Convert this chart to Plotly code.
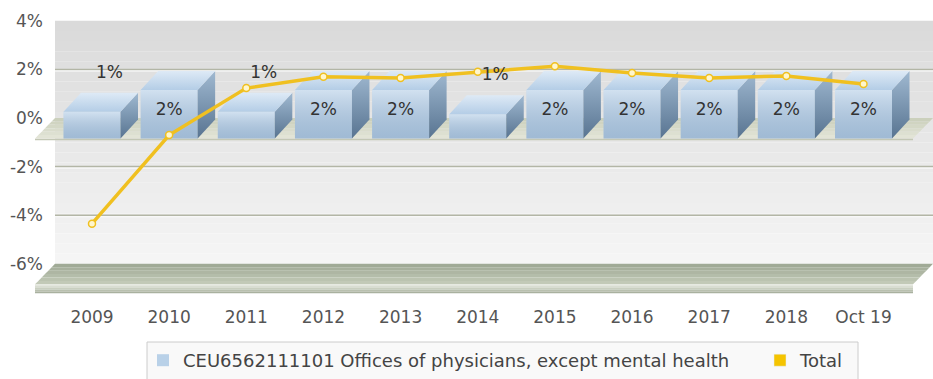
import plotly.graph_objects as go

# ---- data -------------------------------------------------------------
categories = ["2009", "2010", "2011", "2012", "2013", "2014",
              "2015", "2016", "2017", "2018", "Oct 19"]
physicians_pct = [1.1, 2.0, 1.1, 2.0, 2.0, 1.0, 2.0, 2.0, 2.0, 2.0, 2.0]
total_pct = [-4.35, -0.7, 1.23, 1.7, 1.65, 1.9, 2.13, 1.85, 1.65, 1.73, 1.4]
y_tick_values = [4, 2, 0, -2, -4, -6]
physicians_name = "CEU6562111101 Offices of physicians, except mental health"
total_name = "Total"

# ---- geometry of the pseudo-3D canvas ---------------------------------
W, H = 933, 379
CAT_PX = 77.15        # pixels per category step
PCT_PX = 24.3         # pixels per percentage point
ZERO_PX = 118         # pixel row of 0% on the back wall
FIRST_PX = 92         # pixel column of the first category (front plane)
PLOT_TOP, PLOT_BOTTOM = 8, 298
WALL_LEFT_PX = 55

x_lo = -FIRST_PX / CAT_PX
x_hi = x_lo + W / CAT_PX
y_hi = (ZERO_PX - PLOT_TOP) / PCT_PX
y_lo = (ZERO_PX - PLOT_BOTTOM) / PCT_PX


def dx(px):
    return px / CAT_PX


def dy(px):
    return px / PCT_PX


FLOOR_DX, FLOOR_DY = dx(20), dy(20.5)   # depth of floor and base slab
BAR_DX, BAR_DY = dx(17.5), dy(19)       # depth of the bar prisms
BAR_HALF = dx(28.5)
wall_left, wall_right = x_lo + dx(WALL_LEFT_PX), x_hi
y_top, y_bottom = max(y_tick_values), min(y_tick_values)
front0 = -FLOOR_DY                      # 0% on the front plane


def mix(c1, c2, t):
    a = [int(c1[i:i + 2], 16) for i in (1, 3, 5)]
    b = [int(c2[i:i + 2], 16) for i in (1, 3, 5)]
    return "#%02x%02x%02x" % tuple(round(a[k] + (b[k] - a[k]) * t) for k in range(3))


def poly_path(pts):
    return "M " + " L ".join(f"{x},{y}" for x, y in pts) + " Z"


shapes = []

# back wall with a soft vertical gradient
n_bands = 24
for k in range(n_bands):
    ya = y_top - (y_top - y_bottom) * k / n_bands
    yb = y_top - (y_top - y_bottom) * (k + 1) / n_bands
    c = mix("#dadada", "#f5f5f5", k / (n_bands - 1))
    shapes.append(dict(type="rect", xref="x", yref="y", layer="below",
                       x0=wall_left, x1=wall_right, y0=yb, y1=ya,
                       fillcolor=c, line_width=0))

# grid lines on the wall
for t in y_tick_values:
    if t in (0, y_top, y_bottom):
        continue
    shapes.append(dict(type="line", xref="x", yref="y", layer="below",
                       x0=wall_left, x1=wall_right, y0=t, y1=t,
                       line=dict(color="#b3b6a6", width=1.5)))
    shapes.append(dict(type="line", xref="x", yref="y", layer="below",
                       x0=wall_left, x1=wall_right, y0=t - dy(1.5), y1=t - dy(1.5),
                       line=dict(color="#fbfbfb", width=1)))


def plane_bands(level, c_back, c_front, n=6):
    for k in range(n):
        f0, f1 = k / n, (k + 1) / n
        pts = [(wall_left - f0 * FLOOR_DX, level - f0 * FLOOR_DY),
               (wall_right - f0 * FLOOR_DX, level - f0 * FLOOR_DY),
               (wall_right - f1 * FLOOR_DX, level - f1 * FLOOR_DY),
               (wall_left - f1 * FLOOR_DX, level - f1 * FLOOR_DY)]
        shapes.append(dict(type="path", xref="x", yref="y", layer="below",
                           path=poly_path(pts), line_width=0,
                           fillcolor=mix(c_back, c_front, k / (n - 1))))


# base slab at the bottom of the scale
plane_bands(y_bottom, "#a0aa96", "#c2c9b7")
slab_front = y_bottom - FLOOR_DY
face_cols = ["#e3e6dd", "#d9ddd2", "#c9cfc0", "#b9c0af", "#a9b19f"]
step = dy(9) / len(face_cols)
for k, c in enumerate(face_cols):
    shapes.append(dict(type="rect", xref="x", yref="y", layer="below",
                       x0=wall_left - FLOOR_DX, x1=wall_right - FLOOR_DX,
                       y0=slab_front - (k + 1) * step, y1=slab_front - k * step,
                       fillcolor=c, line_width=0))

# floor at 0%
plane_bands(0, "#cbd0bc", "#e2e4d6")
shapes.append(dict(type="line", xref="x", yref="y", layer="below",
                   x0=wall_left - FLOOR_DX, x1=wall_right - FLOOR_DX,
                   y0=front0 - dy(1), y1=front0 - dy(1),
                   line=dict(color="#c3c7b5", width=1.5)))

# legend frame shared by the two legend blocks
def paper_y(px):
    return (PLOT_BOTTOM - px) / (PLOT_BOTTOM - PLOT_TOP)


shapes.append(dict(type="rect", xref="paper", yref="paper", layer="below",
                   x0=147 / W, x1=858 / W, y0=paper_y(390), y1=paper_y(342),
                   fillcolor="#f9f9f9", line=dict(color="#cccccc", width=1)))

fig = go.Figure()

idx = list(range(len(categories)))

# front faces of the prisms
fig.add_trace(go.Bar(
    x=idx, y=physicians_pct, base=front0, width=2 * BAR_HALF,
    name=physicians_name, marker=dict(color="#b9d1e8", line_width=0),
    hovertemplate="%{text}: %{y}%<extra></extra>", text=categories,
    textposition="none", legend="legend"))

# legend swatch for the line series
fig.add_trace(go.Bar(x=[None], y=[None], name=total_name,
                     marker_color="#f5c400", legendgroup="total",
                     legend="legend2"))

for i, v in zip(idx, physicians_pct):
    top = front0 + v
    xl, xr = i - BAR_HALF, i + BAR_HALF
    # shading on the front face
    fig.add_trace(go.Scatter(
        x=[xl, xr, xr, xl, xl], y=[front0, front0, top, top, front0],
        fill="toself", mode="none", hoverinfo="skip", showlegend=False,
        fillgradient=dict(type="vertical",
                          colorscale=[[0, "rgba(60,95,135,0.20)"],
                                      [1, "rgba(255,255,255,0.35)"]])))
    # right side face
    fig.add_trace(go.Scatter(
        x=[xr, xr + BAR_DX, xr + BAR_DX, xr, xr],
        y=[front0, front0 + BAR_DY, top + BAR_DY, top, front0],
        fill="toself", mode="none", hoverinfo="skip", showlegend=False,
        fillgradient=dict(type="vertical",
                          colorscale=[[0, "#587491"], [1, "#a0b9d1"]])))
    # top face
    fig.add_trace(go.Scatter(
        x=[xl, xr, xr + BAR_DX, xl + BAR_DX, xl],
        y=[top, top, top + BAR_DY, top + BAR_DY, top],
        fill="toself", mode="none", hoverinfo="skip", showlegend=False,
        fillgradient=dict(type="vertical",
                          colorscale=[[0, "#b4cde6"], [1, "#deeaf6"]])))

# Total line
fig.add_trace(go.Scatter(
    x=idx, y=total_pct, mode="lines+markers", name=total_name,
    legendgroup="total", showlegend=False,
    line=dict(color="#f0c020", width=3.5),
    marker=dict(size=7, color="#fff6cc", line=dict(color="#f0c020", width=1.5)),
    hovertemplate="%{y}%<extra>Total</extra>"))

# value labels: tall prisms carry the label on the front face,
# short ones above the top face
lx, ly, lt = [], [], []
for i, v in zip(idx, physicians_pct):
    if v >= 1.5:
        lx.append(i)
        ly.append(front0 + v - dy(21))
    else:
        lx.append(i + BAR_DX)
        ly.append(front0 + v + BAR_DY + dy(19))
    lt.append(f"{v:.0f}%")
fig.add_trace(go.Scatter(
    x=lx, y=ly, text=lt, mode="text", hoverinfo="skip", showlegend=False,
    textfont=dict(family="DejaVu Sans", size=17, color="#333333")))

FONT = "DejaVu Sans"
legend_common = dict(orientation="h", xref="container", yref="container",
                     y=1 - 342 / H, xanchor="left", yanchor="top",
                     bgcolor="rgba(0,0,0,0)", borderwidth=0,
                     font=dict(family=FONT, size=18, color="#444444"),
                     itemclick=False, itemdoubleclick=False)
fig.update_layout(
    width=W, height=H,
    margin=dict(l=0, r=0, t=PLOT_TOP, b=H - PLOT_BOTTOM, pad=0),
    paper_bgcolor="white", plot_bgcolor="rgba(0,0,0,0)",
    barmode="overlay",
    shapes=shapes,
    font=dict(family=FONT, size=17, color="#555555"),
    xaxis=dict(range=[x_lo, x_hi], tickvals=idx, ticktext=categories,
               showgrid=False, zeroline=False, showline=False, ticks="",
               tickfont=dict(family=FONT, size=17, color="#555555"),
               ticklabelstandoff=7, fixedrange=True, automargin=False),
    yaxis=dict(range=[y_lo, y_hi], tickvals=y_tick_values,
               ticktext=[f"{t}%" for t in y_tick_values],
               anchor="free", position=WALL_LEFT_PX / W, side="left",
               showgrid=False, zeroline=False, showline=False, ticks="",
               tickfont=dict(family=FONT, size=17, color="#555555"),
               ticklabelstandoff=12, fixedrange=True, automargin=False),
    legend=dict(x=143 / W, **legend_common),
    legend2=dict(x=760 / W, **legend_common),
    showlegend=True,
)

fig.write_html("out.html")
